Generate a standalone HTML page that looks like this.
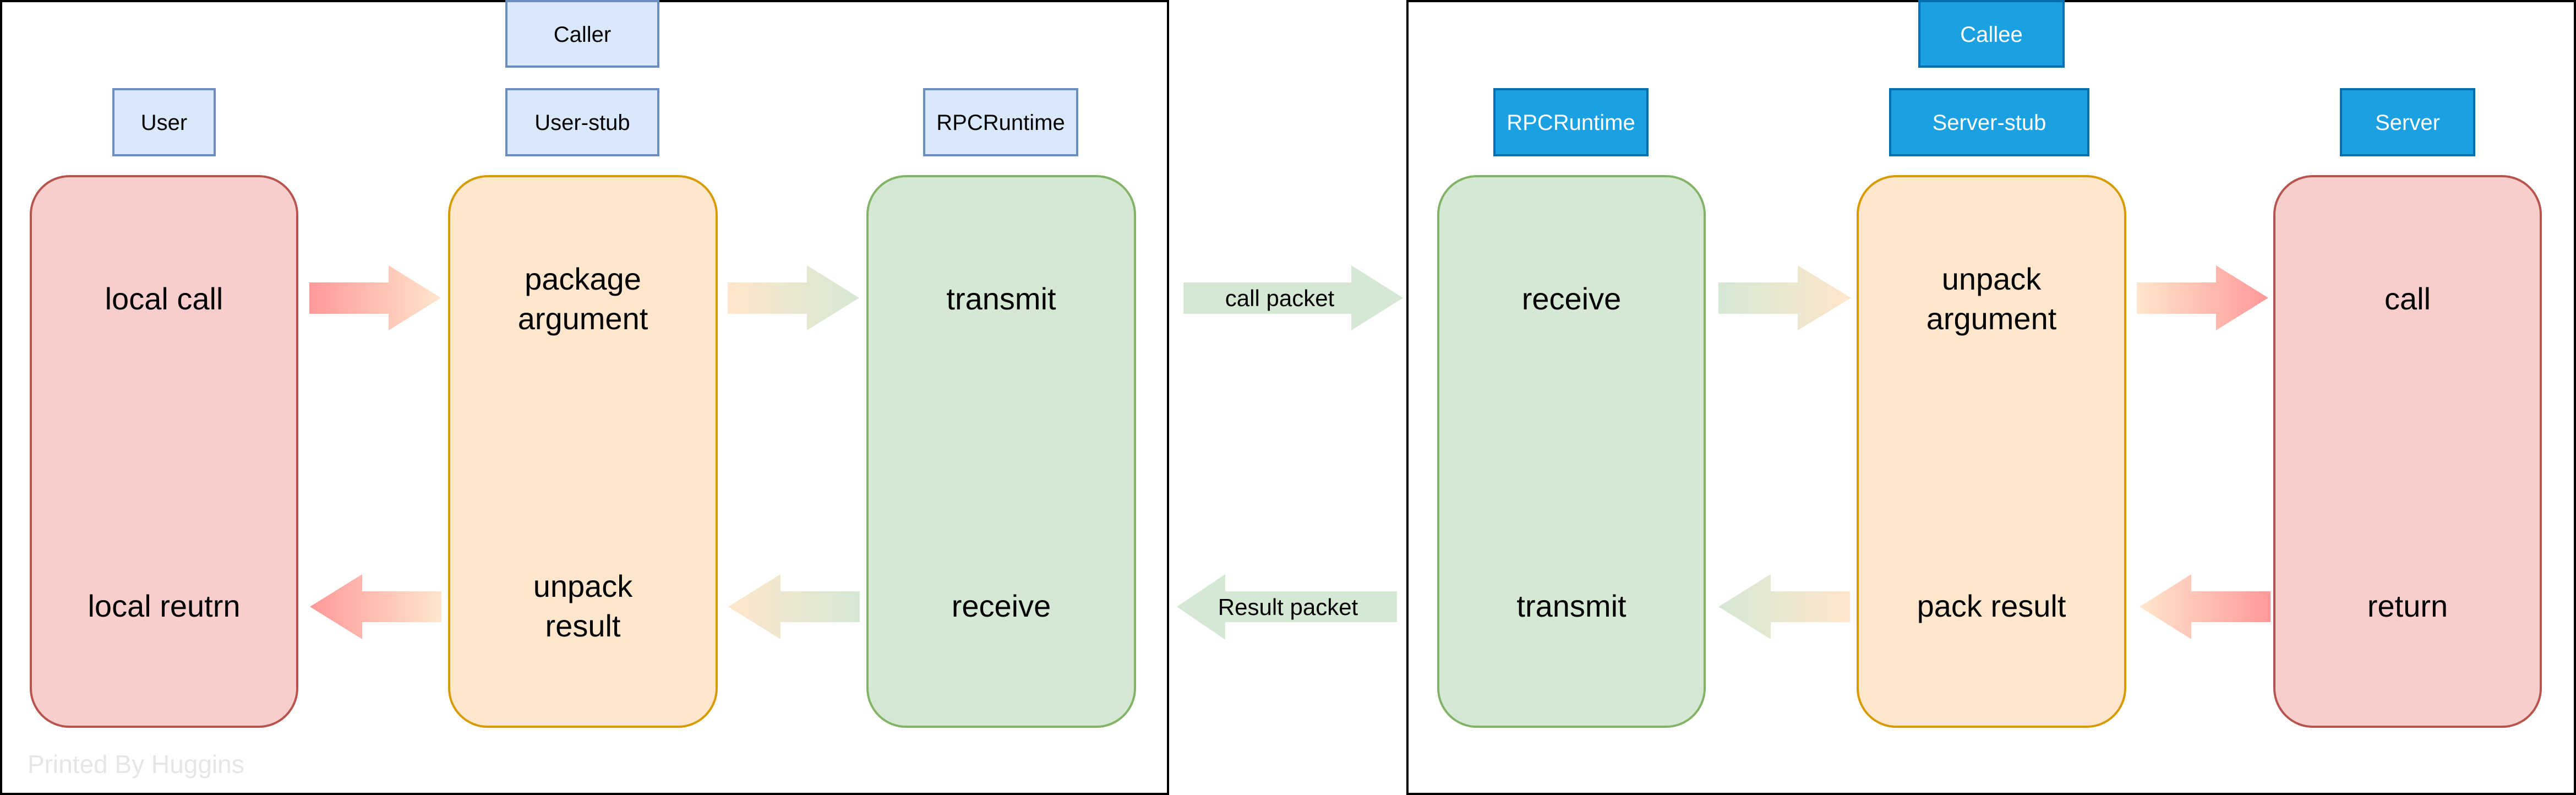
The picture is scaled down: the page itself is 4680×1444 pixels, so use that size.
<!DOCTYPE html>
<html><head><meta charset="utf-8"><style>
html,body{margin:0;padding:0;background:#fff;}
svg{display:block;}
text{font-family:"Liberation Sans",sans-serif;}
</style></head><body>
<svg width="4680" height="1444" viewBox="0 0 4680 1444" xmlns="http://www.w3.org/2000/svg">
<defs>
<linearGradient id="rO" x1="0" x2="1" y1="0" y2="0"><stop offset="0" stop-color="#ff9999"/><stop offset="1" stop-color="#ffe6cc"/></linearGradient>
<linearGradient id="oR" x1="0" x2="1" y1="0" y2="0"><stop offset="0" stop-color="#ffe6cc"/><stop offset="1" stop-color="#ff9999"/></linearGradient>
<linearGradient id="oG" x1="0" x2="1" y1="0" y2="0"><stop offset="0" stop-color="#ffe6cc"/><stop offset="1" stop-color="#d5e8d4"/></linearGradient>
<linearGradient id="gO" x1="0" x2="1" y1="0" y2="0"><stop offset="0" stop-color="#d5e8d4"/><stop offset="1" stop-color="#ffe6cc"/></linearGradient>
</defs>
<rect width="4680" height="1444" fill="#fff"/>
<!-- frames -->
<rect x="2" y="2" width="2120" height="1440" fill="none" stroke="#000" stroke-width="4"/>
<rect x="2557" y="2" width="2121" height="1440" fill="none" stroke="#000" stroke-width="4"/>

<!-- label boxes -->
<g stroke-width="4" font-size="40" text-anchor="middle">
<rect x="206" y="162" width="184" height="120" fill="#dae8fc" stroke="#6c8ebf"/>
<text x="298" y="236">User</text>
<rect x="920" y="2" width="276" height="119" fill="#dae8fc" stroke="#6c8ebf"/>
<text x="1058" y="76">Caller</text>
<rect x="920" y="162" width="276" height="120" fill="#dae8fc" stroke="#6c8ebf"/>
<text x="1058" y="236">User-stub</text>
<rect x="1679" y="162" width="278" height="120" fill="#dae8fc" stroke="#6c8ebf"/>
<text x="1818" y="236">RPCRuntime</text>

<rect x="2715" y="162" width="278" height="120" fill="#1ba1e2" stroke="#006eaf"/>
<text x="2854" y="236" fill="#fff">RPCRuntime</text>
<rect x="3487" y="2" width="262" height="119" fill="#1ba1e2" stroke="#006eaf"/>
<text x="3618" y="76" fill="#fff">Callee</text>
<rect x="3434" y="162" width="360" height="120" fill="#1ba1e2" stroke="#006eaf"/>
<text x="3614" y="236" fill="#fff">Server-stub</text>
<rect x="4253" y="162" width="242" height="120" fill="#1ba1e2" stroke="#006eaf"/>
<text x="4374" y="236" fill="#fff">Server</text>
</g>

<!-- main boxes -->
<g stroke-width="4">
<rect x="56" y="320" width="484" height="1000" rx="70" fill="#f8cecc" stroke="#b85450"/>
<rect x="816" y="320" width="486" height="1000" rx="70" fill="#ffe6cc" stroke="#d79b00"/>
<rect x="1576" y="320" width="486" height="1000" rx="70" fill="#d5e8d4" stroke="#82b366"/>
<rect x="2613" y="320" width="484" height="1000" rx="70" fill="#d5e8d4" stroke="#82b366"/>
<rect x="3375" y="320" width="486" height="1000" rx="70" fill="#ffe6cc" stroke="#d79b00"/>
<rect x="4132" y="320" width="484" height="1000" rx="70" fill="#f8cecc" stroke="#b85450"/>
</g>

<!-- arrows top -->
<polygon points="562,513 706,513 706,482 801,541 706,600 706,570 562,570" fill="url(#rO)"/>
<polygon points="1322,513 1466,513 1466,482 1561,541 1466,600 1466,570 1322,570" fill="url(#oG)"/>
<polygon points="2150,513 2455,513 2455,482 2549,541 2455,600 2455,570 2150,570" fill="#d5e8d4"/>
<polygon points="3122,513 3266,513 3266,482 3363,541 3266,600 3266,570 3122,570" fill="url(#gO)"/>
<polygon points="3882,513 4026,513 4026,482 4121,541 4026,600 4026,570 3882,570" fill="url(#oR)"/>

<!-- arrows bottom -->
<polygon points="802,1074 658,1074 658,1043 563,1102 658,1161 658,1130 802,1130" fill="url(#rO)"/>
<polygon points="1562,1074 1418,1074 1418,1043 1323,1102 1418,1161 1418,1130 1562,1130" fill="url(#oG)"/>
<polygon points="2538,1074 2226,1074 2226,1043 2138,1102 2226,1162 2226,1130 2538,1130" fill="#d5e8d4"/>
<polygon points="3361,1074 3217,1074 3217,1043 3122,1102 3217,1161 3217,1130 3361,1130" fill="url(#gO)"/>
<polygon points="4125,1074 3981,1074 3981,1043 3887,1102 3981,1161 3981,1130 4125,1130" fill="url(#oR)"/>

<g font-size="42" text-anchor="middle">
<text x="2325" y="556">call packet</text>
<text x="2340" y="1117">Result packet</text>
</g>

<!-- box text -->
<g font-size="56" text-anchor="middle">
<text x="298" y="562">local call</text>
<text x="1059" y="526">package</text>
<text x="1059" y="598">argument</text>
<text x="1819" y="562">transmit</text>
<text x="298" y="1120">local reutrn</text>
<text x="1059" y="1084">unpack</text>
<text x="1059" y="1156">result</text>
<text x="1819" y="1120">receive</text>

<text x="2855" y="562">receive</text>
<text x="3618" y="526">unpack</text>
<text x="3618" y="598">argument</text>
<text x="4374" y="562">call</text>
<text x="2855" y="1120">transmit</text>
<text x="3618" y="1120">pack result</text>
<text x="4374" y="1120">return</text>
</g>

<text x="50" y="1404" font-size="46" fill="#e6e6e6">Printed By Huggins</text>
</svg>
</body></html>
